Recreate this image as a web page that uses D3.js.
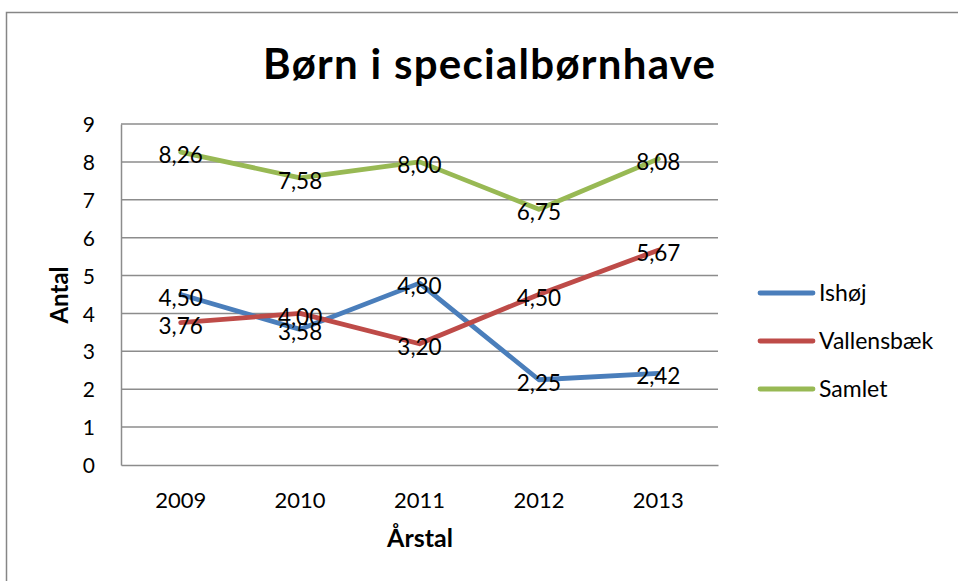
<!DOCTYPE html>
<html>
<head>
<meta charset="utf-8">
<script src="https://cdn.jsdelivr.net/npm/d3@7"></script>
<style>
  body { margin: 0; background: #fff; }
  text { font-family: Lato, "Open Sans", sans-serif; fill: #000; }
</style>
</head>
<body>
<svg id="chart" width="958" height="581"></svg>
<script>
// data
var years = ["2009", "2010", "2011", "2012", "2013"];
var ishoj = [4.50, 3.58, 4.80, 2.25, 2.42];
var vallensbaek = [3.76, 4.00, 3.20, 4.50, 5.67];
var samlet = [8.26, 7.58, 8.00, 6.75, 8.08];
var seriesNames = ["Ishøj", "Vallensbæk", "Samlet"];
var seriesColors = ["#4A7EBB", "#BE4B48", "#98B954"];
var yTicks = [0, 1, 2, 3, 4, 5, 6, 7, 8, 9];

var series = [ishoj, vallensbaek, samlet];

var svg = d3.select("#chart");
var margin = {top: 124, left: 121, right: 240, bottom: 116};
var width = 958 - margin.left - margin.right;
var height = 581 - margin.top - margin.bottom;

// cadre
svg.append("rect")
    .attr("x", 6.5).attr("y", 12.5)
    .attr("width", 1000).attr("height", 1000)
    .attr("fill", "none")
    .attr("stroke", "#868686")
    .attr("stroke-width", 1.5);

// titre
svg.append("text")
    .attr("x", 489).attr("y", 79)
    .attr("text-anchor", "middle")
    .attr("font-size", 42)
    .attr("font-weight", "bold")
    .attr("textLength", 452)
    .attr("lengthAdjust", "spacing")
    .text("Børn i specialbørnhave");

var g = svg.append("g")
    .attr("transform", "translate(" + margin.left + "," + margin.top + ")");

var x = d3.scaleBand().domain(years).range([0, width]);
var y = d3.scaleLinear().domain([0, 9]).range([height, 0]);

// grille
g.selectAll(".grid").data(yTicks.slice(1))
  .enter().append("line")
    .attr("class", "grid")
    .attr("x1", 0).attr("x2", width)
    .attr("y1", function(d){ return y(d); })
    .attr("y2", function(d){ return y(d); })
    .attr("stroke", "#8c8c8c")
    .attr("stroke-width", 1.5);

// axe y
var yAxis = g.append("g")
    .call(d3.axisLeft(y).tickValues(yTicks).tickSize(0).tickPadding(26));
yAxis.select(".domain").attr("stroke", "#8c8c8c").attr("stroke-width", 1.5);
yAxis.selectAll("text").attr("font-size", 21).attr("dy", "0.36em")
    .style("font-family", "Lato, sans-serif").attr("fill", "#000");

// axe x
var xAxis = g.append("g")
    .attr("transform", "translate(0," + height + ")")
    .call(d3.axisBottom(x).tickSize(0).tickPadding(27));
xAxis.select(".domain").attr("stroke", "#8c8c8c").attr("stroke-width", 1.5);
xAxis.selectAll("text").attr("font-size", 22)
    .style("font-family", "Lato, sans-serif").attr("fill", "#000");

// titres d'axes
svg.append("text")
    .attr("x", 420).attr("y", 547)
    .attr("text-anchor", "middle")
    .attr("font-size", 25).attr("font-weight", "bold")
    .text("Årstal");
svg.append("text")
    .attr("transform", "translate(68,295) rotate(-90)")
    .attr("text-anchor", "middle")
    .attr("font-size", 24).attr("font-weight", "bold")
    .text("Antal");

// courbes
var line = d3.line()
    .x(function(d, i){ return x(years[i]) + x.bandwidth() / 2; })
    .y(function(d){ return y(d); });

series.forEach(function(s, k) {
    g.append("path")
        .attr("d", line(s))
        .attr("fill", "none")
        .attr("stroke", seriesColors[k])
        .attr("stroke-width", 4.8)
        .attr("stroke-linejoin", "round")
        .attr("stroke-linecap", "round");
});

// étiquettes
var fmt = function(v){ return v.toFixed(2).replace(".", ","); };
series.forEach(function(s) {
    g.selectAll(null).data(s)
      .enter().append("text")
        .attr("x", function(d, i){ return x(years[i]) + x.bandwidth() / 2; })
        .attr("y", function(d){ return y(d) + 3; })
        .attr("dy", "0.36em")
        .attr("text-anchor", "middle")
        .attr("font-size", 22.5)
        .text(fmt);
});

// légende
var legend = svg.append("g").attr("transform", "translate(760,293)");
seriesNames.forEach(function(n, k) {
    var row = legend.append("g").attr("transform", "translate(0," + (k * 48) + ")");
    row.append("line")
        .attr("x1", 0).attr("x2", 53)
        .attr("stroke", seriesColors[k])
        .attr("stroke-width", 4.8)
        .attr("stroke-linecap", "round");
    row.append("text")
        .attr("x", 59).attr("dy", "0.36em")
        .attr("font-size", 23)
        .text(n);
});
</script>
</body>
</html>
